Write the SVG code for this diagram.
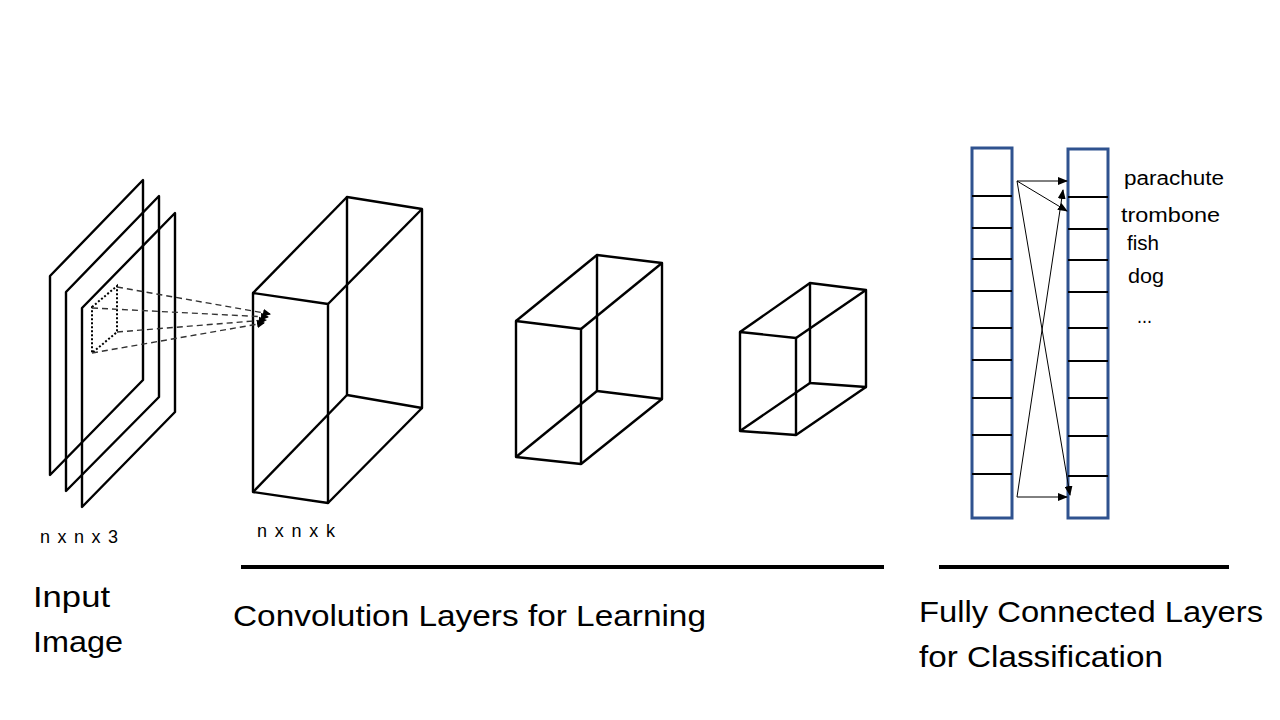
<svg xmlns="http://www.w3.org/2000/svg" width="1280" height="720" viewBox="0 0 1280 720">
<style>
.edge{fill:none;stroke:#000;stroke-width:2.4;stroke-linejoin:round}
.dot{fill:none;stroke:#000;stroke-width:2;stroke-dasharray:2 2}
.dash{fill:none;stroke:#333;stroke-width:1.4;stroke-dasharray:6 4}
.bar{fill:#fff;stroke:#2F528F;stroke-width:3}
.div{stroke:#000;stroke-width:2}
.fc{fill:none;stroke:#000;stroke-width:1}
.t{font-family:"Liberation Sans",Arial,sans-serif;fill:#000}
.big{font-size:29px}
.small{font-size:18px}
.cls{font-size:20px}
.rule{stroke:#000;stroke-width:4}
</style>
<defs>
<marker id="ah" markerWidth="8" markerHeight="8" refX="7" refY="4" orient="auto" markerUnits="userSpaceOnUse">
<path d="M0,0 L8,4 L0,8 Z" fill="#000"/>
</marker>
<marker id="ah2" markerWidth="10" markerHeight="8" refX="9" refY="4" orient="auto" markerUnits="userSpaceOnUse">
<path d="M0,0 L10,4 L0,8 Z" fill="#000"/>
</marker>
</defs>
<rect width="1280" height="720" fill="#fff"/>

<g id="input-image">
<polygon class="edge" points="50,276 143,180 143,380 50,475"/>
<polygon class="edge" points="66,292 159,196 159,397 66,491"/>
<polygon class="edge" points="82,308 175,213 175,412 82,507"/>
<polygon class="dot" points="92,307 117,286 117,332 92,353"/>
</g>

<g id="conv1">
<polygon class="edge" points="253,293 328,304 328,503 253,492"/>
<polygon class="edge" points="347,197 422,209 422,408 347,395"/>
<line class="edge" x1="253" y1="293" x2="347" y2="197"/>
<line class="edge" x1="328" y1="304" x2="422" y2="209"/>
<line class="edge" x1="328" y1="503" x2="422" y2="408"/>
<line class="edge" x1="253" y1="492" x2="347" y2="395"/>
</g>

<g id="conv2">
<polygon class="edge" points="516,321 581,329 581,464 516,457"/>
<polygon class="edge" points="597,255 662,263 662,399 597,391"/>
<line class="edge" x1="516" y1="321" x2="597" y2="255"/>
<line class="edge" x1="581" y1="329" x2="662" y2="263"/>
<line class="edge" x1="581" y1="464" x2="662" y2="399"/>
<line class="edge" x1="516" y1="457" x2="597" y2="391"/>
</g>

<g id="conv3">
<polygon class="edge" points="740,332 796,338 796,435 740,431"/>
<polygon class="edge" points="810,283 866,290 866,387 810,383"/>
<line class="edge" x1="740" y1="332" x2="810" y2="283"/>
<line class="edge" x1="796" y1="338" x2="866" y2="290"/>
<line class="edge" x1="796" y1="435" x2="866" y2="387"/>
<line class="edge" x1="740" y1="431" x2="810" y2="383"/>
</g>

<g id="fc-left">
<rect class="bar" x="972" y="148" width="40" height="370"/>
<line class="div" x1="972" y1="196" x2="1012" y2="196"/>
<line class="div" x1="972" y1="228" x2="1012" y2="228"/>
<line class="div" x1="972" y1="259" x2="1012" y2="259"/>
<line class="div" x1="972" y1="291" x2="1012" y2="291"/>
<line class="div" x1="972" y1="328" x2="1012" y2="328"/>
<line class="div" x1="972" y1="360" x2="1012" y2="360"/>
<line class="div" x1="972" y1="398" x2="1012" y2="398"/>
<line class="div" x1="972" y1="435" x2="1012" y2="435"/>
<line class="div" x1="972" y1="474" x2="1012" y2="474"/>
</g>

<g id="fc-right">
<rect class="bar" x="1068" y="149" width="40" height="369"/>
<line class="div" x1="1068" y1="197" x2="1108" y2="197"/>
<line class="div" x1="1068" y1="229" x2="1108" y2="229"/>
<line class="div" x1="1068" y1="260" x2="1108" y2="260"/>
<line class="div" x1="1068" y1="292" x2="1108" y2="292"/>
<line class="div" x1="1068" y1="328" x2="1108" y2="328"/>
<line class="div" x1="1068" y1="361" x2="1108" y2="361"/>
<line class="div" x1="1068" y1="398" x2="1108" y2="398"/>
<line class="div" x1="1068" y1="436" x2="1108" y2="436"/>
<line class="div" x1="1068" y1="476" x2="1108" y2="476"/>
</g>

<g id="connectors">
<line class="dash" x1="117" y1="287" x2="270" y2="314" marker-end="url(#ah)"/>
<line class="dash" x1="92" y1="308" x2="268" y2="317" marker-end="url(#ah)"/>
<line class="dash" x1="117" y1="332" x2="266" y2="320" marker-end="url(#ah)"/>
<line class="dash" x1="92" y1="353" x2="264" y2="323" marker-end="url(#ah)"/>
<line class="fc" x1="1017" y1="181" x2="1067" y2="181" marker-end="url(#ah2)"/>
<line class="fc" x1="1017" y1="181" x2="1067" y2="211" marker-end="url(#ah2)"/>
<line class="fc" x1="1017" y1="181" x2="1070" y2="495" marker-end="url(#ah2)"/>
<line class="fc" x1="1017" y1="497" x2="1067" y2="497" marker-end="url(#ah2)"/>
<line class="fc" x1="1017" y1="497" x2="1063" y2="190" marker-end="url(#ah2)"/>
</g>

<g id="rules">
<line class="rule" x1="241" y1="567" x2="884" y2="567"/>
<line class="rule" x1="939" y1="567" x2="1229" y2="567"/>
</g>

<g id="labels">
<text class="t small" x="40" y="543" textLength="78" lengthAdjust="spacing">n x n x 3</text>
<text class="t small" x="257" y="537" textLength="78" lengthAdjust="spacing">n x n x k</text>
<text class="t big" x="33" y="607" textLength="77" lengthAdjust="spacingAndGlyphs">Input</text>
<text class="t big" x="33" y="652" textLength="90" lengthAdjust="spacingAndGlyphs">Image</text>
<text class="t big" x="233" y="626" textLength="473" lengthAdjust="spacingAndGlyphs">Convolution Layers for Learning</text>
<text class="t big" x="919" y="622" textLength="344" lengthAdjust="spacingAndGlyphs">Fully Connected Layers</text>
<text class="t big" x="919" y="667" textLength="244" lengthAdjust="spacingAndGlyphs">for Classification</text>
<text class="t cls" x="1124" y="185" textLength="100" lengthAdjust="spacingAndGlyphs">parachute</text>
<text class="t cls" x="1121" y="222" textLength="99" lengthAdjust="spacingAndGlyphs">trombone</text>
<text class="t cls" x="1127" y="250" textLength="32" lengthAdjust="spacingAndGlyphs">fish</text>
<text class="t cls" x="1128" y="283" textLength="36" lengthAdjust="spacingAndGlyphs">dog</text>
<text class="t cls" x="1137" y="323" textLength="15" lengthAdjust="spacingAndGlyphs">...</text>
</g>
</svg>
